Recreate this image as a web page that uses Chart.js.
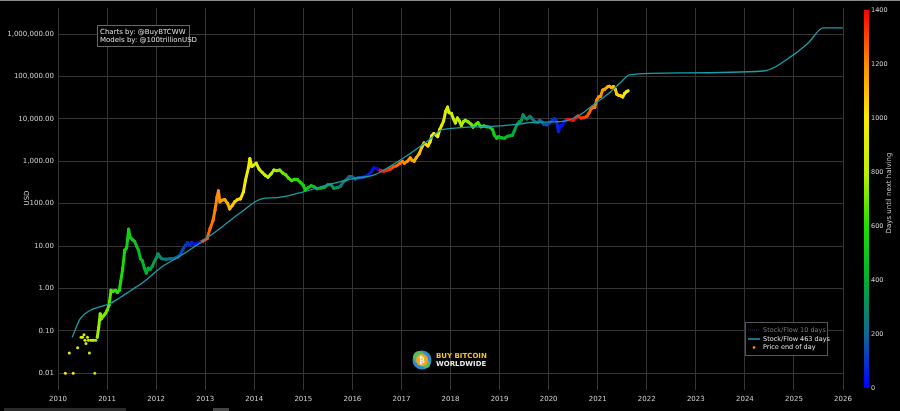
<!DOCTYPE html>
<html lang="en">
<head>
<meta charset="UTF-8">
<title>Bitcoin Stock-to-Flow</title>
<style>
  body { margin: 0; background: #000; }
  canvas { display: block; }
</style>
<script src="https://cdn.jsdelivr.net/npm/chart.js"></script>
</head>
<body>
<canvas id="s2f" width="900" height="411"></canvas>
<script>
// tick labels
const yearTicks = [2010, 2011, 2012, 2013, 2014, 2015, 2016, 2017, 2018, 2019, 2020, 2021, 2022, 2023, 2024, 2025, 2026];
const usdTicks = [0.01, 0.1, 1, 10, 100, 1000, 10000, 100000, 1000000];
const halvingTicks = [0, 200, 400, 600, 800, 1000, 1200, 1400];

// halving dates (decimal years), used for the colour of each price point
const halvings = [2012.908, 2016.521, 2020.36, 2024.3];

// sparse early price points (2010)
const earlyYears = [2010.15, 2010.23, 2010.31, 2010.40, 2010.47, 2010.50, 2010.53, 2010.55, 2010.57, 2010.60, 2010.62, 2010.64, 2010.67, 2010.70, 2010.73, 2010.75, 2010.77];
const earlyUsd   = [0.01, 0.03, 0.01, 0.04, 0.07, 0.07, 0.08, 0.06, 0.05, 0.07, 0.06, 0.03, 0.06, 0.06, 0.06, 0.01, 0.06];

// price end of day
const priceYears = [
  2010.80, 2010.83, 2010.86, 2010.88, 2010.92, 2010.96, 2011.00, 2011.04, 2011.08, 2011.12, 2011.17, 2011.21, 2011.25, 2011.28, 2011.32, 2011.36, 2011.40, 2011.44, 2011.47, 2011.52,
  2011.56, 2011.60, 2011.64, 2011.68, 2011.72, 2011.76, 2011.80, 2011.84, 2011.88, 2011.92, 2011.96, 2012.00, 2012.04, 2012.08, 2012.12, 2012.20, 2012.28, 2012.36, 2012.44, 2012.50,
  2012.55, 2012.60, 2012.64, 2012.68, 2012.72, 2012.78, 2012.84, 2012.90, 2012.96, 2013.04, 2013.10, 2013.16, 2013.20, 2013.24, 2013.27, 2013.30, 2013.34, 2013.40, 2013.46, 2013.50,
  2013.55, 2013.60, 2013.66, 2013.72, 2013.78, 2013.82, 2013.88, 2013.91, 2013.95, 2013.98, 2014.04, 2014.10, 2014.16, 2014.22, 2014.28, 2014.34, 2014.40, 2014.46, 2014.52, 2014.58,
  2014.64, 2014.70, 2014.76, 2014.82, 2014.88, 2014.94, 2015.00, 2015.04, 2015.10, 2015.16, 2015.22, 2015.28, 2015.36, 2015.44, 2015.50, 2015.56, 2015.62, 2015.70, 2015.76, 2015.82,
  2015.88, 2015.94, 2016.00, 2016.06, 2016.12, 2016.20, 2016.28, 2016.36, 2016.44, 2016.48, 2016.52, 2016.58, 2016.64, 2016.70, 2016.78, 2016.84, 2016.90, 2016.97, 2017.02, 2017.06,
  2017.12, 2017.18, 2017.22, 2017.26, 2017.30, 2017.36, 2017.42, 2017.46, 2017.50, 2017.54, 2017.58, 2017.62, 2017.66, 2017.70, 2017.74, 2017.78, 2017.82, 2017.86, 2017.90, 2017.94,
  2017.97, 2018.02, 2018.06, 2018.10, 2018.14, 2018.18, 2018.22, 2018.26, 2018.30, 2018.36, 2018.42, 2018.46, 2018.52, 2018.56, 2018.62, 2018.68, 2018.74, 2018.80, 2018.86, 2018.89,
  2018.94, 2018.98, 2019.04, 2019.10, 2019.16, 2019.22, 2019.26, 2019.30, 2019.36, 2019.40, 2019.44, 2019.48, 2019.52, 2019.56, 2019.62, 2019.66, 2019.72, 2019.78, 2019.82, 2019.86,
  2019.90, 2019.96, 2020.02, 2020.08, 2020.12, 2020.16, 2020.20, 2020.24, 2020.28, 2020.32, 2020.36, 2020.42, 2020.50, 2020.56, 2020.60, 2020.66, 2020.72, 2020.78, 2020.82, 2020.86,
  2020.90, 2020.94, 2020.98, 2021.02, 2021.06, 2021.10, 2021.14, 2021.20, 2021.24, 2021.28, 2021.32, 2021.36, 2021.39, 2021.43, 2021.47, 2021.51, 2021.55, 2021.59, 2021.62
];
const priceUsd = [
  0.07, 0.12, 0.25, 0.19, 0.22, 0.25, 0.30, 0.40, 0.90, 0.85, 0.90, 0.80, 0.90, 1.5, 3, 8, 9, 25, 16, 14,
  13, 10, 8, 5, 4.5, 3, 2.3, 3, 2.8, 3.3, 4.2, 5.2, 6.5, 5.5, 5, 4.9, 5.0, 5.1, 5.5, 6.5,
  8.5, 10.5, 12, 10.5, 12.2, 11, 11.5, 12.4, 13.2, 15, 26, 40, 70, 140, 200, 110, 120, 125, 100, 75,
  90, 110, 125, 130, 190, 350, 700, 1150, 750, 800, 900, 650, 550, 470, 420, 500, 620, 600, 620, 530,
  480, 400, 350, 375, 370, 320, 270, 210, 240, 265, 250, 225, 235, 245, 280, 285, 230, 240, 260, 330,
  370, 440, 430, 380, 410, 415, 440, 520, 700, 680, 650, 600, 580, 610, 660, 740, 780, 900, 1000, 900,
  1000, 1200, 1050, 1000, 1200, 1500, 2200, 2700, 2500, 2300, 2800, 4000, 4500, 4200, 3800, 5600, 7000, 9000, 15000, 19000,
  14000, 13500, 10000, 8000, 10500, 9000, 7000, 8500, 9300, 8500, 7500, 6400, 7500, 8200, 6500, 6800, 6500, 6400, 5500, 4200,
  3500, 3800, 3600, 3500, 3900, 4000, 4100, 5200, 7500, 8500, 9000, 12500, 10500, 10000, 11500, 10200, 8500, 8200, 9300, 8500,
  7500, 7200, 8000, 9500, 10200, 9000, 5000, 6800, 7000, 8800, 9500, 9700, 9200, 11000, 11700, 10500, 10700, 11500, 13500, 16500,
  19000, 18500, 28000, 33000, 34000, 48000, 50000, 57000, 59000, 55000, 58000, 50000, 38000, 36000, 35000, 33000, 40000, 44000, 46000
];

// Stock/Flow 463 days model
const modelYears = [2010.29, 2010.45, 2010.65, 2010.86, 2011.06, 2011.26, 2011.47, 2011.77, 2012.08, 2012.49, 2012.90, 2013.30, 2013.71, 2014.15, 2014.46, 2015.00, 2015.48, 2016.02, 2016.43, 2016.77, 2017.17, 2017.58, 2017.83, 2018.80, 2019.35, 2019.68, 2020.29, 2020.64, 2020.90, 2021.19, 2021.46, 2021.65, 2022.70, 2024.37, 2024.98, 2025.29, 2025.60, 2026.00];
const modelUsd   = [0.07, 0.19, 0.30, 0.37, 0.44, 0.60, 0.87, 1.5, 3.0, 5.8, 12, 26, 60, 130, 138, 190, 275, 390, 470, 760, 1500, 3300, 5600, 6600, 7400, 8300, 8700, 12500, 21000, 37000, 71000, 110000, 122000, 135000, 320000, 620000, 1400000, 1400000];

const colourStops = [
  [0, [0, 0, 255]], [200, [15, 105, 150]], [400, [0, 175, 50]], [600, [30, 225, 0]],
  [800, [190, 240, 0]], [1000, [250, 235, 0]], [1200, [255, 140, 0]], [1400, [255, 0, 0]]
];

function daysToHalving(year) {
  const next = halvings.find(h => h > year) || halvings[halvings.length - 1];
  return Math.max(0, (next - year) * 365.25);
}

function colourFor(days) {
  days = Math.min(1400, Math.max(0, days));
  for (let i = 1; i < colourStops.length; i++) {
    if (days <= colourStops[i][0]) {
      const [d0, c0] = colourStops[i - 1];
      const [d1, c1] = colourStops[i];
      const t = (days - d0) / (d1 - d0);
      const c = c0.map((v, k) => Math.round(v + (c1[k] - v) * t));
      return 'rgb(' + c.join(',') + ')';
    }
  }
  return 'rgb(255,0,0)';
}

const pts = (xs, ys) => xs.map((x, i) => ({ x: x, y: ys[i] }));
const pointColour = ctx => colourFor(daysToHalving(ctx.raw ? ctx.raw.x : 2015));

const font = 'DejaVu Sans';

const overlays = {
  id: 'overlays',
  afterDraw(chart) {
    const c = chart.ctx;
    c.save();

    // thin frame line at the top, scroll bar at the bottom
    c.fillStyle = '#8a8a8a';
    c.fillRect(0, 0, 900, 1);
    c.fillStyle = '#2a2a2a';
    c.fillRect(4, 408, 122, 3);
    c.fillStyle = '#444';
    c.fillRect(213, 408, 16, 3);

    // y axis title
    c.fillStyle = '#d0d0d0';
    c.font = '7px ' + font;
    c.textAlign = 'center';
    c.textBaseline = 'middle';
    c.translate(27, 198);
    c.rotate(-Math.PI / 2);
    c.fillText('USD', 0, 0);
    c.setTransform(1, 0, 0, 1, 0, 0);

    // credits box
    c.fillStyle = '#000';
    c.fillRect(97.5, 25.5, 92, 21);
    c.strokeStyle = '#666';
    c.lineWidth = 1;
    c.strokeRect(97.5, 25.5, 92, 21);
    c.fillStyle = '#e0e0e0';
    c.textAlign = 'left';
    c.font = '7px ' + font;
    c.fillText('Charts by: @BuyBTCWW', 100, 32);
    c.fillText('Models by: @100trillionUSD', 100, 40.5);

    // legend
    c.fillStyle = '#000';
    c.fillRect(745.5, 322.5, 82, 33);
    c.strokeStyle = '#555';
    c.strokeRect(745.5, 322.5, 82, 33);
    c.font = '6.5px ' + font;
    c.setLineDash([1, 1]);
    c.strokeStyle = '#2a2a70';
    c.beginPath(); c.moveTo(748, 330); c.lineTo(760, 330); c.stroke();
    c.setLineDash([]);
    c.fillStyle = '#777';
    c.fillText('Stock/Flow 10 days', 763, 330);
    c.strokeStyle = '#1a9ea8';
    c.lineWidth = 1.5;
    c.beginPath(); c.moveTo(748, 339); c.lineTo(760, 339); c.stroke();
    c.fillStyle = '#e0e0e0';
    c.fillText('Stock/Flow 463 days', 763, 339);
    c.fillStyle = '#ffa500';
    c.beginPath(); c.arc(754, 347.5, 1.3, 0, Math.PI * 2); c.fill();
    c.fillStyle = '#e0e0e0';
    c.fillText('Price end of day', 763, 347.5);

    // colour bar
    const top = 10, bottom = 388;
    const grad = c.createLinearGradient(0, bottom, 0, top);
    colourStops.forEach(([d, rgb]) => grad.addColorStop(d / 1400, 'rgb(' + rgb.join(',') + ')'));
    c.fillStyle = grad;
    c.fillRect(864, top, 5, bottom - top);
    c.fillStyle = '#d0d0d0';
    c.font = '6.5px ' + font;
    halvingTicks.forEach(v => {
      c.fillText(String(v), 871, bottom - v / 1400 * (bottom - top));
    });
    c.translate(889, 193);
    c.rotate(-Math.PI / 2);
    c.textAlign = 'center';
    c.font = '7px ' + font;
    c.fillText('Days until next halving', 0, 0);
    c.setTransform(1, 0, 0, 1, 0, 0);

    // Buy Bitcoin Worldwide logo
    const lx = 422, ly = 360;
    c.fillStyle = '#2f8fd0';
    c.beginPath(); c.arc(lx, ly, 9.5, 0, Math.PI * 2); c.fill();
    c.fillStyle = '#5cb85c';
    c.beginPath(); c.arc(lx - 3, ly - 3, 6, 0, Math.PI * 2); c.fill();
    c.beginPath(); c.arc(lx + 4, ly + 4, 4, 0, Math.PI * 2); c.fill();
    c.fillStyle = '#f4a623';
    c.beginPath(); c.arc(lx, ly, 6, 0, Math.PI * 2); c.fill();
    c.fillStyle = '#fff';
    c.font = 'bold 8px ' + font;
    c.textAlign = 'center';
    c.fillText('\u20BF', lx, ly + 0.5);
    c.textAlign = 'left';
    c.font = 'bold 7px ' + font;
    c.fillStyle = '#f2c12e';
    c.fillText('BUY BITCOIN', 436, 356.5);
    c.fillStyle = '#e8e8e8';
    c.fillText('WORLDWIDE', 436, 364.5);

    c.restore();
  }
};

new Chart(document.getElementById('s2f'), {
  type: 'line',
  data: {
    datasets: [
      {
        label: 'Stock/Flow 10 days',
        data: [],
        hidden: true,
        borderColor: '#2a2a70'
      },
      {
        label: 'Stock/Flow 463 days',
        data: pts(modelYears, modelUsd),
        borderColor: '#1a9ea8',
        borderWidth: 1.3,
        pointRadius: 0,
        cubicInterpolationMode: 'monotone'
      },
      {
        label: 'Price end of day',
        data: pts(priceYears, priceUsd),
        borderWidth: 3,
        borderJoinStyle: 'round',
        borderCapStyle: 'round',
        pointRadius: 1.4,
        pointBorderWidth: 0,
        pointBackgroundColor: pointColour,
        segment: {
          borderColor: ctx => colourFor(daysToHalving((ctx.p0.parsed.x + ctx.p1.parsed.x) / 2))
        }
      },
      {
        label: 'Price end of day (early)',
        type: 'scatter',
        data: pts(earlyYears, earlyUsd),
        pointRadius: 1.5,
        pointBorderWidth: 0,
        pointBackgroundColor: pointColour,
        showLine: false
      }
    ]
  },
  options: {
    responsive: false,
    animation: false,
    layout: { padding: { top: 5, right: 57, left: 0, bottom: 0 } },
    plugins: { legend: { display: false }, tooltip: { enabled: false } },
    scales: {
      x: {
        type: 'linear',
        min: 2010,
        max: 2026,
        afterBuildTicks: scale => { scale.ticks = yearTicks.map(v => ({ value: v })); },
        afterFit: scale => { scale.height = 21; },
        ticks: {
          color: '#d0d0d0',
          font: { family: font, size: 7 },
          padding: 5,
          maxRotation: 0,
          callback: v => String(v)
        },
        grid: { color: '#353535', drawTicks: false },
        border: { display: false }
      },
      y: {
        type: 'logarithmic',
        min: 0.004,
        max: 4100000,
        afterBuildTicks: scale => { scale.ticks = usdTicks.map(v => ({ value: v })); },
        afterFit: scale => { scale.width = 58; },
        ticks: {
          color: '#d0d0d0',
          font: { family: font, size: 7 },
          padding: 4,
          callback: v => Number(v).toLocaleString('en-US', { minimumFractionDigits: 2, maximumFractionDigits: 2 })
        },
        grid: { color: '#353535', drawTicks: false },
        border: { display: false }
      }
    }
  },
  plugins: [overlays]
});
</script>
</body>
</html>
